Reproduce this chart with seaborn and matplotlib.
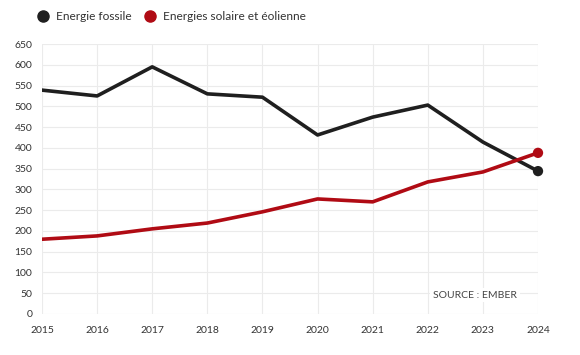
import numpy as np
import pandas as pd
import matplotlib
matplotlib.use("Agg")
import matplotlib.pyplot as plt
import seaborn as sns
from matplotlib.lines import Line2D

years = [2015, 2016, 2017, 2018, 2019, 2020, 2021, 2022, 2023, 2024]
fossile = [539, 525, 595, 530, 522, 431, 474, 503, 414, 344]
renouvelable = [180, 188, 205, 219, 246, 277, 270, 318, 342, 388]
series_names = ["Energie fossile", "Energies solaire et éolienne"]
colors = ["#1f1f1f", "#b00b14"]
y_ticks = list(range(0, 651, 50))

df = pd.DataFrame({
    "year": years * 2,
    "value": fossile + renouvelable,
    "serie": [series_names[0]] * len(years) + [series_names[1]] * len(years),
})

sns.set_style("white")
plt.rcParams["font.family"] = ["Lato", "DejaVu Sans"]

fig = plt.figure(figsize=(5.8, 3.55), dpi=100)
ax = fig.add_axes([0.0724, 0.1155, 0.8552, 0.7605])

sns.lineplot(data=df, x="year", y="value", hue="serie", palette=colors,
             linewidth=2.6, ax=ax, legend=False, zorder=3)

# points de fin
last = df[df["year"] == years[-1]]
sns.scatterplot(data=last, x="year", y="value", hue="serie", palette=colors,
                s=55, edgecolor="none", ax=ax, legend=False, zorder=4,
                clip_on=False)

ax.set_xlim(years[0], years[-1])
ax.set_ylim(0, 650)
ax.set_xticks(years)
ax.set_yticks(y_ticks)
ax.set_xlabel("")
ax.set_ylabel("")
ax.grid(True, color="#ebebeb", linewidth=0.8)
ax.set_axisbelow(True)
for s in ax.spines.values():
    s.set_visible(False)
ax.tick_params(axis="both", length=0, labelsize=7.5, colors="#333333")
ax.tick_params(axis="x", pad=9)
ax.tick_params(axis="y", pad=7)

ax.text(0.958, 0.07, "SOURCE : EMBER", transform=ax.transAxes, ha="right",
        va="center", fontsize=7.5, color="#444444",
        bbox=dict(facecolor="white", edgecolor="none", pad=2), zorder=5)

handles = [Line2D([], [], marker="o", linestyle="", markersize=8,
                  color=c) for c in colors]
fig.legend(handles, series_names, loc="upper left", bbox_to_anchor=(0.035, 1.0),
           ncol=2, frameon=False, fontsize=8.6, handletextpad=0.1,
           columnspacing=0.5, labelcolor="#333333")

fig.savefig("out.png", dpi=100)
